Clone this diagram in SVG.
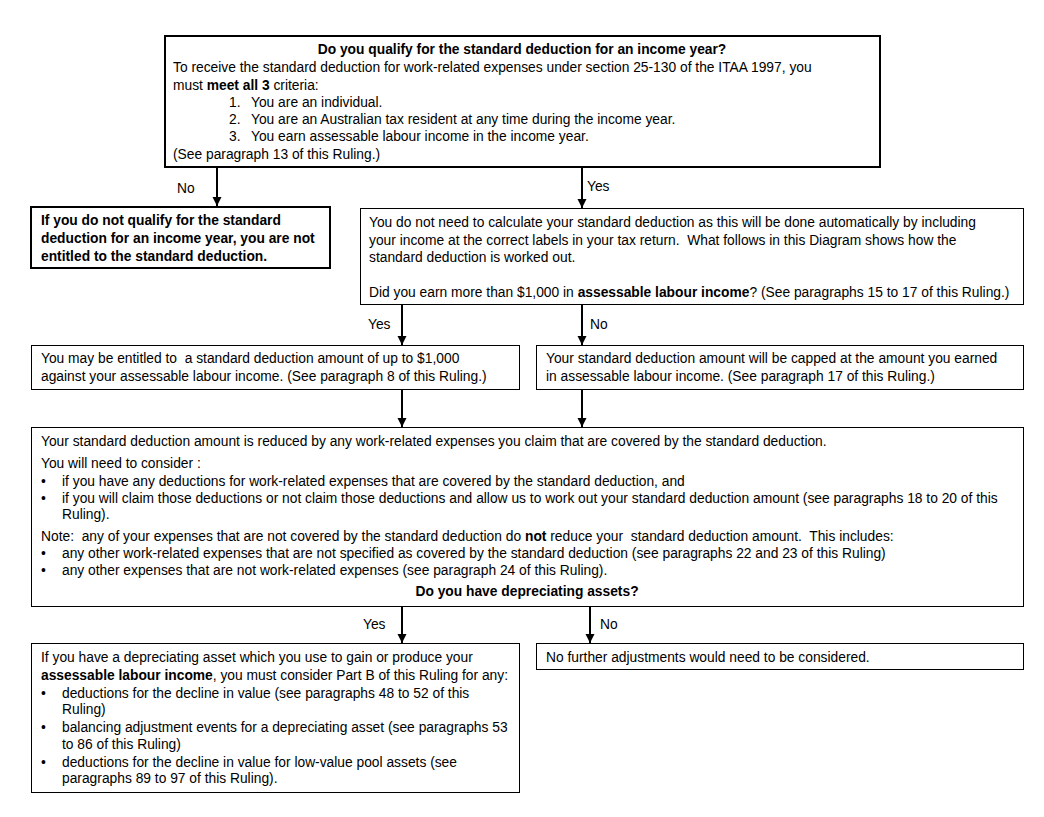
<svg xmlns="http://www.w3.org/2000/svg" width="1044" height="817" viewBox="0 0 1044 817">
<style>
text{font-family:"Liberation Sans","DejaVu Sans",sans-serif;font-size:13.8px;fill:#000;white-space:pre}
.b{font-weight:bold}
.box{fill:#fff;stroke:#000;stroke-width:1}
.thick{stroke-width:2}
.conn{stroke:#000;stroke-width:2;fill:none}
</style>
<defs>
<marker id="ah" markerUnits="userSpaceOnUse" markerWidth="10" markerHeight="10" refX="9" refY="4.5" orient="auto">
<path d="M0,0 L9,4.5 L0,9 z" fill="#000"/>
</marker>
</defs>
<rect width="1044" height="817" fill="#fff"/>
<g id="connectors">
<line class="conn" x1="217" y1="167" x2="217" y2="206" marker-end="url(#ah)"/>
<line class="conn" x1="582" y1="167" x2="582" y2="208" marker-end="url(#ah)"/>
<line class="conn" x1="402" y1="305" x2="402" y2="345" marker-end="url(#ah)"/>
<line class="conn" x1="582" y1="305" x2="582" y2="345" marker-end="url(#ah)"/>
<line class="conn" x1="402" y1="390" x2="402" y2="427" marker-end="url(#ah)"/>
<line class="conn" x1="582" y1="390" x2="582" y2="427" marker-end="url(#ah)"/>
<line class="conn" x1="402" y1="607" x2="402" y2="643" marker-end="url(#ah)"/>
<line class="conn" x1="590" y1="607" x2="590" y2="643" marker-end="url(#ah)"/>
<text x="177" y="193">No</text>
<text x="587" y="191">Yes</text>
<text x="368" y="329">Yes</text>
<text x="590" y="329">No</text>
<text x="363" y="629">Yes</text>
<text x="600" y="629">No</text>
</g>
<g id="qualify">
<rect class="box thick" x="165" y="36" width="715" height="131"/>
<text class="b" x="522" y="54" text-anchor="middle">Do you qualify for the standard deduction for an income year?</text>
<text x="173" y="72">To receive the standard deduction for work-related expenses under section 25-130 of the ITAA 1997, you</text>
<text x="173" y="90">must <tspan class="b">meet all 3</tspan> criteria:</text>
<text x="229" y="107">1.</text><text x="251" y="107">You are an individual.</text>
<text x="229" y="124">2.</text><text x="251" y="124">You are an Australian tax resident at any time during the income year.</text>
<text x="229" y="141">3.</text><text x="251" y="141">You earn assessable labour income in the income year.</text>
<text x="173" y="159">(See paragraph 13 of this Ruling.)</text>
</g>
<g id="not-entitled">
<rect class="box thick" x="31" y="207" width="299" height="61"/>
<text class="b" x="41" y="225">If you do not qualify for the standard</text>
<text class="b" x="41" y="243">deduction for an income year, you are not</text>
<text class="b" x="41" y="261">entitled to the standard deduction.</text>
</g>
<g id="automatic">
<rect class="box" x="360.5" y="208.5" width="663" height="96"/>
<text x="369" y="227">You do not need to calculate your standard deduction as this will be done automatically by including</text>
<text x="369" y="245">your income at the correct labels in your tax return.  What follows in this Diagram shows how the</text>
<text x="369" y="262">standard deduction is worked out.</text>
<text x="369" y="297">Did you earn more than $1,000 in <tspan class="b">assessable labour income</tspan>? (See paragraphs 15 to 17 of this Ruling.)</text>
</g>
<g id="up-to-1000">
<rect class="box" x="31.5" y="345.5" width="488" height="44"/>
<text x="41" y="363">You may be entitled to  a standard deduction amount of up to $1,000</text>
<text x="41" y="381">against your assessable labour income. (See paragraph 8 of this Ruling.)</text>
</g>
<g id="capped">
<rect class="box" x="536.5" y="345.5" width="487" height="44"/>
<text x="546" y="363">Your standard deduction amount will be capped at the amount you earned</text>
<text x="546" y="381">in assessable labour income. (See paragraph 17 of this Ruling.)</text>
</g>
<g id="reduced">
<rect class="box" x="31.5" y="427.5" width="992" height="179"/>
<text x="41" y="446">Your standard deduction amount is reduced by any work-related expenses you claim that are covered by the standard deduction.</text>
<text x="41" y="468">You will need to consider :</text>
<text x="41" y="486">•</text><text x="62" y="486">if you have any deductions for work-related expenses that are covered by the standard deduction, and</text>
<text x="41" y="503">•</text><text x="62" y="503">if you will claim those deductions or not claim those deductions and allow us to work out your standard deduction amount (see paragraphs 18 to 20 of this</text>
<text x="62" y="519">Ruling).</text>
<text x="41" y="541">Note:  any of your expenses that are not covered by the standard deduction do <tspan class="b">not</tspan> reduce your  standard deduction amount.  This includes:</text>
<text x="41" y="558">•</text><text x="62" y="558">any other work-related expenses that are not specified as covered by the standard deduction (see paragraphs 22 and 23 of this Ruling)</text>
<text x="41" y="575">•</text><text x="62" y="575">any other expenses that are not work-related expenses (see paragraph 24 of this Ruling).</text>
<text class="b" x="527" y="596" text-anchor="middle">Do you have depreciating assets?</text>
</g>
<g id="depreciating">
<rect class="box" x="31.5" y="643.5" width="488" height="149"/>
<text x="41" y="662">If you have a depreciating asset which you use to gain or produce your</text>
<text x="41" y="680"><tspan class="b">assessable labour income</tspan>, you must consider Part B of this Ruling for any:</text>
<text x="41" y="698">•</text><text x="62" y="698">deductions for the decline in value (see paragraphs 48 to 52 of this</text>
<text x="62" y="714">Ruling)</text>
<text x="41" y="732">•</text><text x="62" y="732">balancing adjustment events for a depreciating asset (see paragraphs 53</text>
<text x="62" y="749">to 86 of this Ruling)</text>
<text x="41" y="767">•</text><text x="62" y="767">deductions for the decline in value for low-value pool assets (see</text>
<text x="62" y="783">paragraphs 89 to 97 of this Ruling).</text>
</g>
<g id="no-further">
<rect class="box" x="536.5" y="643.5" width="487" height="26"/>
<text x="546" y="662">No further adjustments would need to be considered.</text>
</g>
</svg>
